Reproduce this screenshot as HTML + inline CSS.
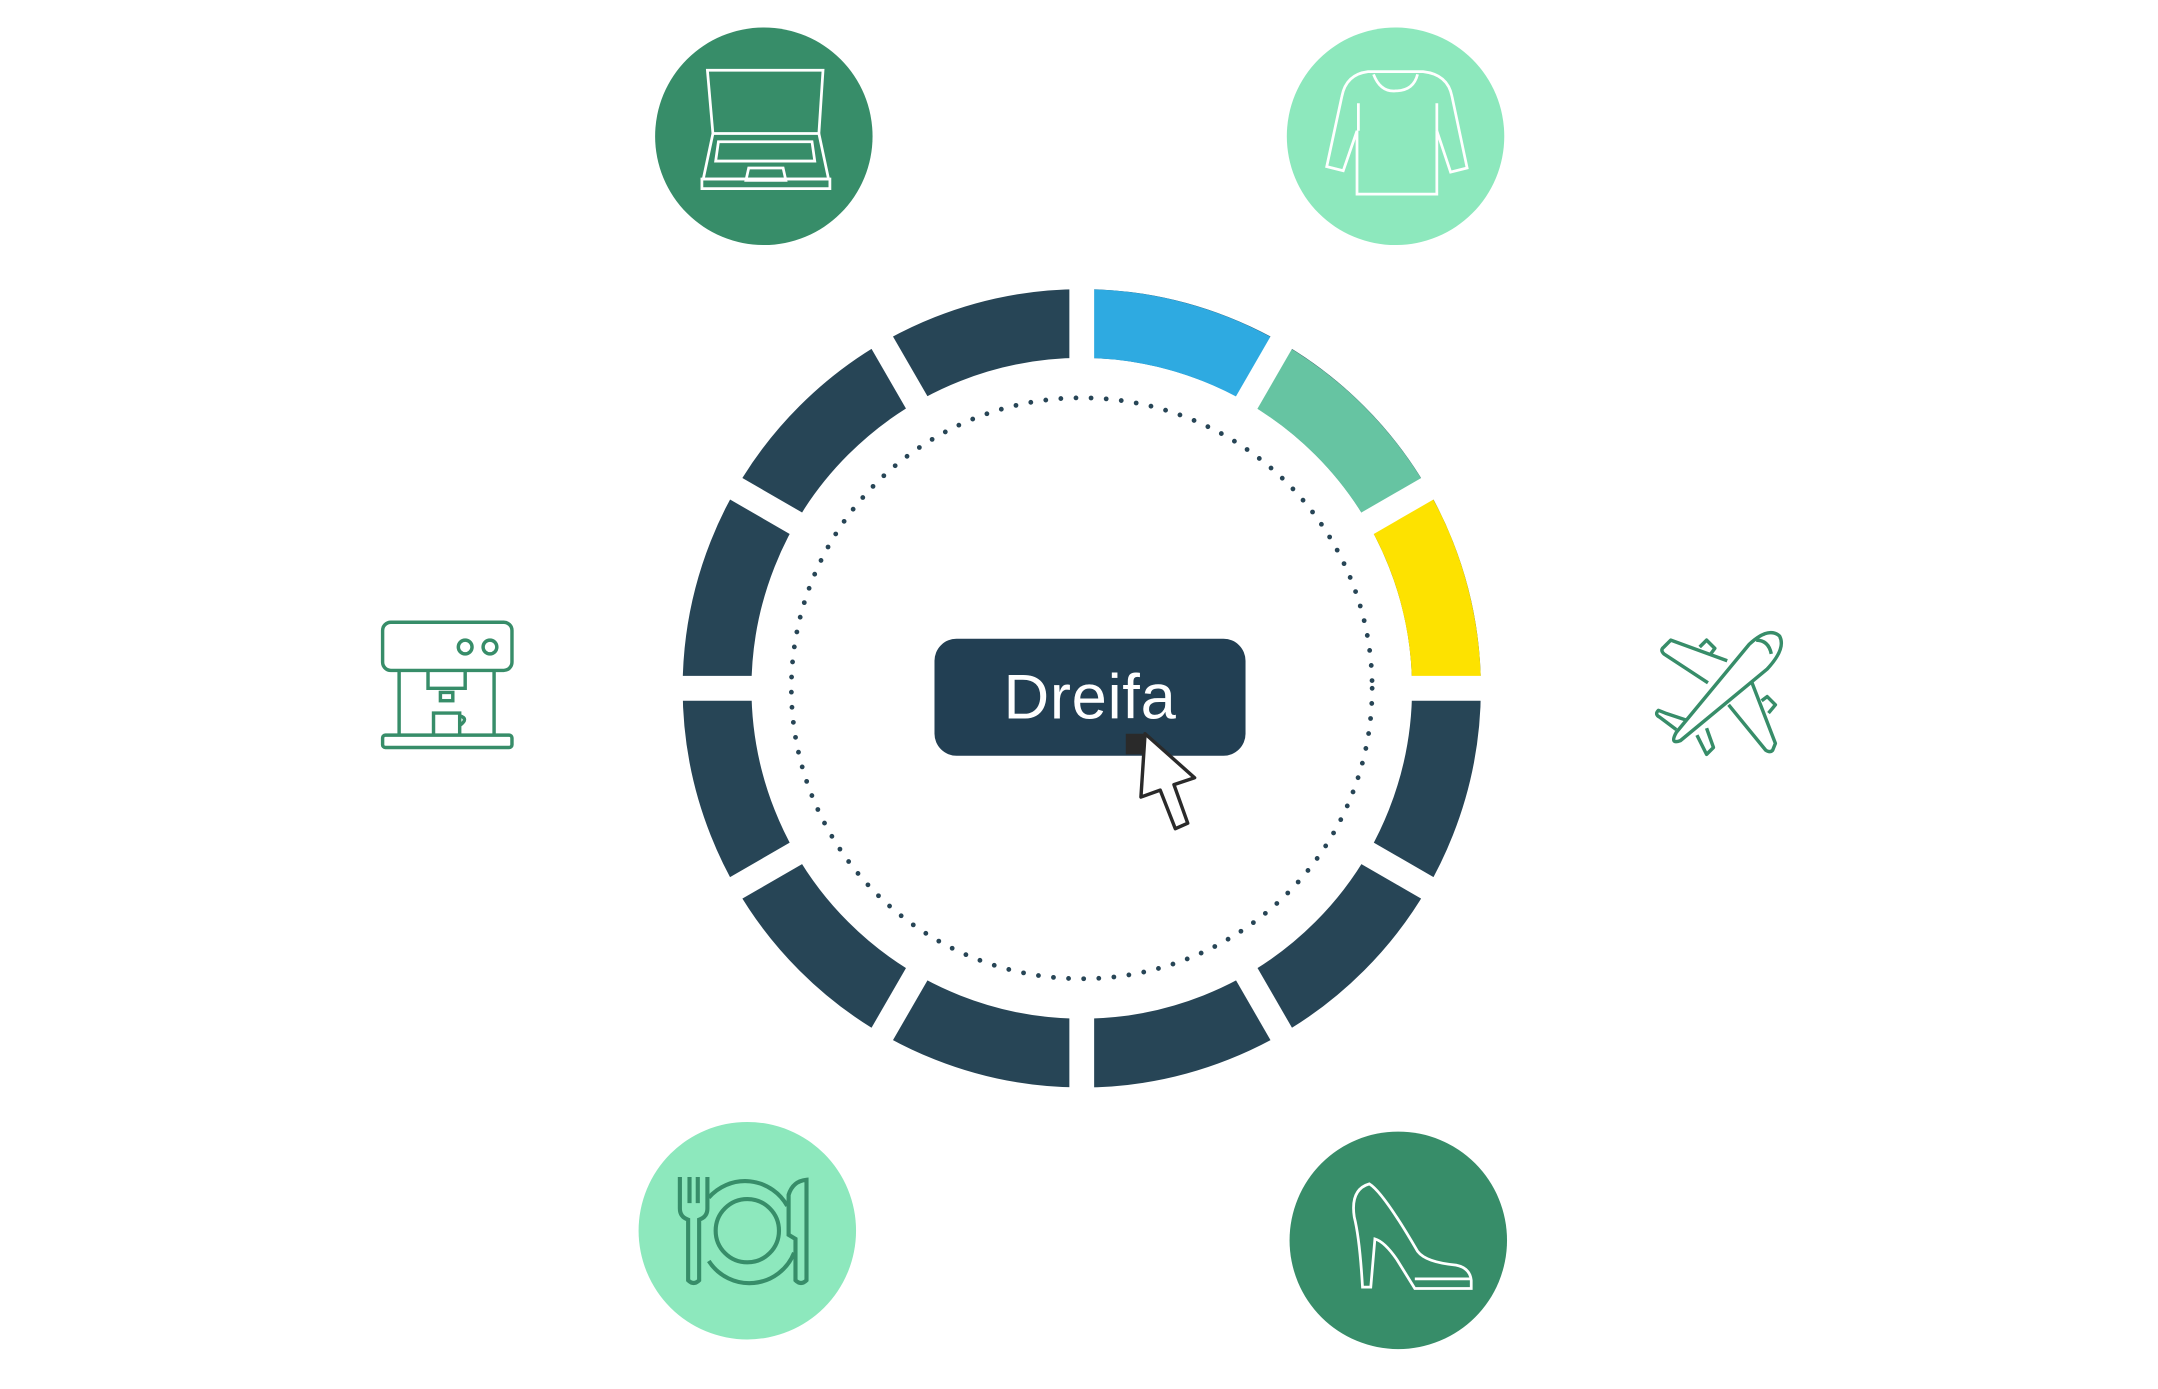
<!DOCTYPE html>
<html><head><meta charset="utf-8"><style>
html,body{margin:0;padding:0;background:#fff;}
svg{display:block;}
</style></head><body>
<svg width="2158" height="1389" viewBox="0 0 1568 1009" preserveAspectRatio="none" xmlns="http://www.w3.org/2000/svg">
<defs>
<mask id="gaps">
<rect width="1568" height="1009" fill="#fff"/>
<g stroke="#000" stroke-width="18" transform="translate(786,500)">
<line x1="0" y1="0" x2="0" y2="-320"/><line x1="0" y1="0" x2="0" y2="320"/>
<line x1="0" y1="0" x2="320" y2="0"/><line x1="0" y1="0" x2="-320" y2="0"/>
<g transform="rotate(30)"><line x1="-320" y1="0" x2="320" y2="0"/></g>
<g transform="rotate(60)"><line x1="-320" y1="0" x2="320" y2="0"/></g>
<g transform="rotate(120)"><line x1="-320" y1="0" x2="320" y2="0"/></g>
<g transform="rotate(150)"><line x1="-320" y1="0" x2="320" y2="0"/></g>
</g>
</mask>
</defs>
<g mask="url(#gaps)">
<circle cx="786" cy="500" r="265" fill="none" stroke="#274556" stroke-width="50"/>
<path d="M786,210 A290,290 0 0 1 931,249.1 L906,292.4 A240,240 0 0 0 786,260 Z" fill="#2eaae1"/>
<path d="M931,249.1 A290,290 0 0 1 1037.1,355 L993.8,380 A240,240 0 0 0 906,292.4 Z" fill="#66c4a2"/>
<path d="M1037.1,355 A290,290 0 0 1 1076,500 L1026,500 A240,240 0 0 0 993.8,380 Z" fill="#fde200"/>
</g>
<circle cx="786" cy="500" r="211" fill="none" stroke="#274556" stroke-width="3.5" stroke-dasharray="0 11" stroke-linecap="round"/>
<rect x="679" y="464" width="226" height="85" rx="16" fill="#223f53"/>
<text x="792" y="522" text-anchor="middle" font-family="Liberation Sans, sans-serif" font-size="46" fill="#fff" font-weight="normal" letter-spacing="0.5">Dreifa</text>
<path d="M832,533 L868,565 L853,570 L863,598 L854,602 L843,574 L829,579 Z" fill="#fff" stroke="#2a2a2a" stroke-width="2.5" stroke-linejoin="round"/>
<path d="M818,533 L832,533 L830,548 L818,548 Z" fill="#2a2a2a"/>
<!-- laptop -->
<circle cx="555" cy="99" r="79" fill="#378d69"/>
<g fill="none" stroke="#fff" stroke-width="2">
<path d="M514,51 H598 L595,97 H518 Z"/><path d="M518,97 L511,130 H602 L595,97"/>
<path d="M522,103 H590 L592,117 H520 Z"/><path d="M544,122 H569 L571,131 H542 Z"/>
<path d="M510,130 H603 V137 H510 Z"/>
</g>
<!-- sweater -->
<circle cx="1014" cy="99" r="79" fill="#8de8bd"/>
<g fill="none" stroke="#fff" stroke-width="2">
<path d="M994,52 H1034 Q1052,54 1055,70 L1066,122 L1054,125 L1044,95 V141 H986 V95 L976,124 L964,121 L975,70 Q978,54 994,52 Z"/>
<path d="M998,54 Q1003,67 1014,66 Q1027,66 1030,54"/>
<line x1="987" y1="75" x2="987" y2="95"/><line x1="1044" y1="75" x2="1044" y2="95"/>
</g>
<!-- plate -->
<circle cx="543" cy="894" r="79" fill="#8de8bd"/>
<g fill="none" stroke="#378d69" stroke-width="3">
<circle cx="543" cy="894" r="23"/>
<path d="M572,876 A35,35 0 0 0 515,870 M515,916 A35,35 0 0 0 577,910"/>
<path d="M494,855 V878 Q494,884 500,886 V930 Q504,934 508,930 V886 Q514,884 514,878 V855 M501,855 V874 M507,855 V874"/>
<path d="M586,857 V930 Q582,934 578,930 V900 L573,897 V868 Q576,858 586,857 Z"/>
</g>
<!-- shoe -->
<circle cx="1016" cy="901" r="79" fill="#378d69"/>
<g fill="none" stroke="#fff" stroke-width="2">
<path d="M995,860 Q981,864 984,884 Q988,900 990,935 H996 L999,900 Q1006,902 1015,915 L1028,936 H1069 V930 Q1068,921 1058,919 Q1036,917 1030,909 Q1005,866 995,860 Z"/>
<line x1="1028" y1="929" x2="1069" y2="929"/>
</g>
<!-- coffee machine -->
<g fill="none" stroke="#378d69" stroke-width="2.5">
<rect x="278" y="452" width="94" height="35" rx="6"/>
<circle cx="338" cy="470" r="5"/><circle cx="356" cy="470" r="5"/>
<path d="M290,487 V534 M359,487 V534"/>
<path d="M311,487 V500 H338 V487"/><rect x="320" y="503" width="9" height="6"/>
<path d="M315,534 V518 H334 V534 M334,520 Q341,522 334,527"/>
<rect x="278" y="534" width="94" height="9" rx="2"/>
</g>
<!-- plane -->
<g fill="none" stroke="#378d69" stroke-width="2.5" stroke-linejoin="round">
<path d="M1218,532 L1271,468 Q1285,455 1293,462 Q1298,471 1284,486 L1221,538 Q1213,541 1218,532 Z"/>
<path d="M1241,496 L1209,475 Q1206,472 1209,470 L1214,465 L1255,480"/>
<path d="M1256,512 L1283,545 Q1286,547 1288,545 L1290,540 L1273,496"/>
<path d="M1225,523 L1210,518 L1205,516 Q1202,519 1206,521 L1218,530"/>
<path d="M1233,534 L1240,548 L1245,543 L1240,529"/>
<path d="M1235,470 L1240,465 L1246,471 L1243,475"/>
<path d="M1280,509 L1284,506 L1290,512 L1285,518"/>
<path d="M1276,465 Q1285,465 1287,475"/>
</g>
</svg>
</body></html>
